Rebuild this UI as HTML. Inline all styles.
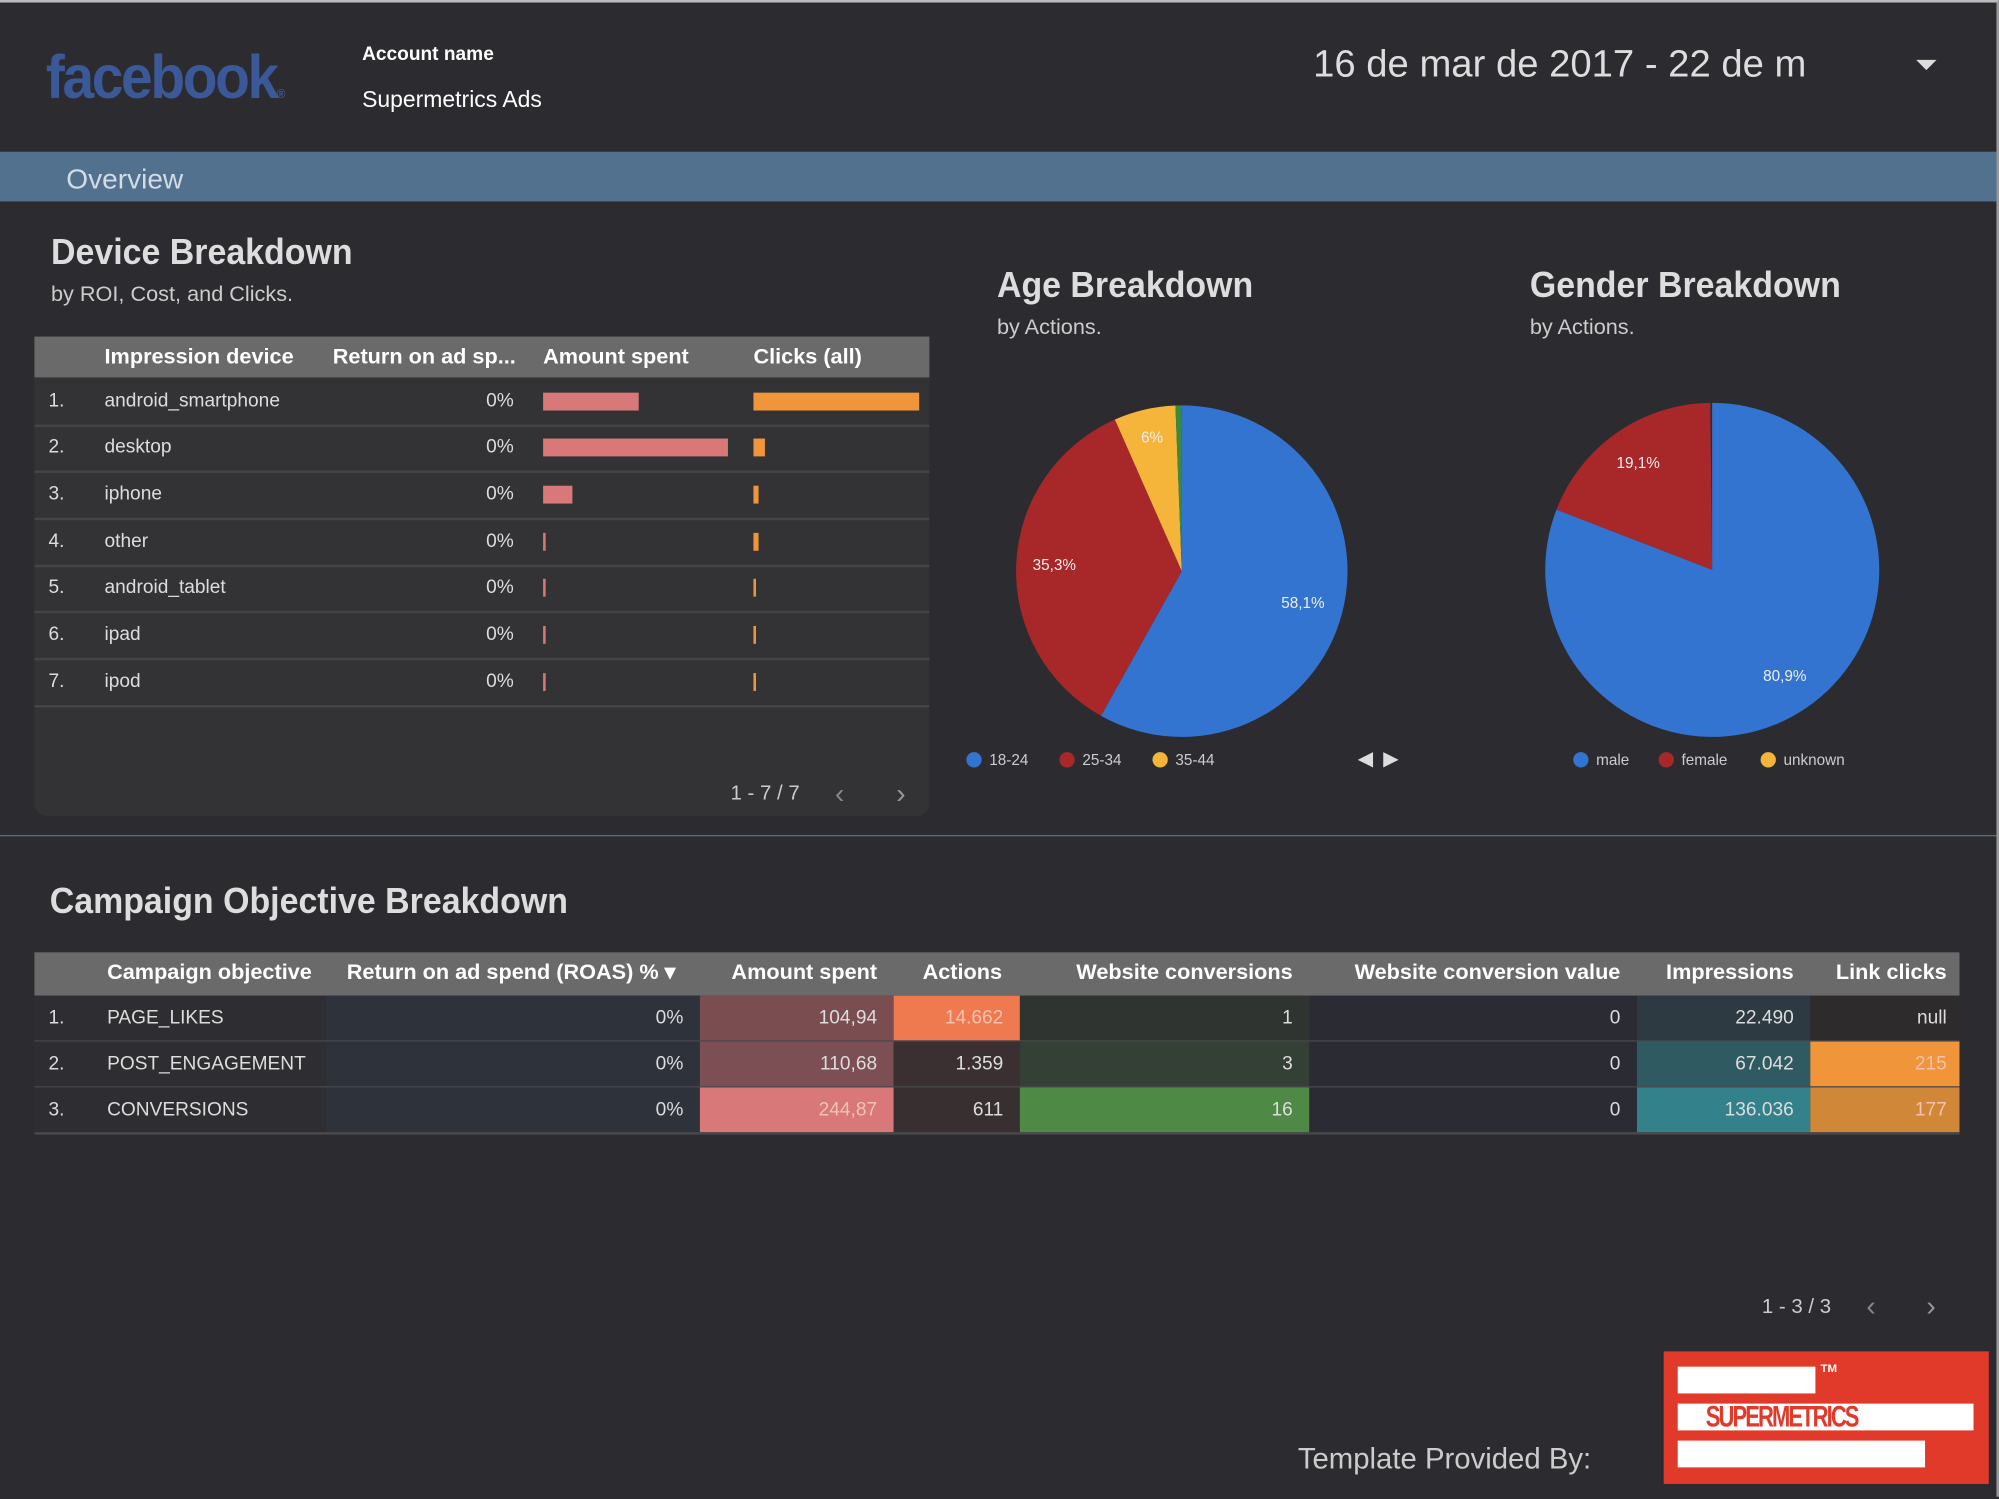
<!DOCTYPE html>
<html><head><meta charset="utf-8"><style>
html,body{margin:0;padding:0;background:#2c2b30;overflow:hidden}
body{width:1999px;height:1497px}
#c{position:absolute;left:0;top:0;width:1568px;height:1174px;transform:scale(1.27487);transform-origin:0 0;background:#2c2b30;font-family:"Liberation Sans",sans-serif;color:#ddd;border-top:2px solid #bbb;border-right:2px solid #999;box-sizing:border-box}
.a{position:absolute;white-space:nowrap}
.b{position:absolute}
.hd{font-weight:bold;font-size:17px;color:#fff}
.r{font-size:15px;color:#ddd}
.cell{position:absolute;height:36px}
.t{font-size:28px;font-weight:bold;color:#ddd;transform:scaleX(0.95);transform-origin:0 0}
</style></head><body><div id="c">
<div class="a" style="left:36px;top:32px;font-size:48px;font-weight:bold;color:#3b5998;letter-spacing:-2px;transform:scaleX(0.93);transform-origin:0 0">facebook<span style="font-size:10px">®</span></div>
<div class="a" style="left:284px;top:32px;font-size:15px;font-weight:bold;color:#fff">Account name</div>
<div class="a" style="left:284px;top:66px;font-size:18px;color:#fff">Supermetrics Ads</div>
<div class="a" style="left:1030px;top:32px;font-size:30px;color:#ddd">16 de mar de 2017 - 22 de m</div>
<div class="b" style="left:1503px;top:45px;border-left:8px solid transparent;border-right:8px solid transparent;border-top:8px solid #ddd"></div>
<div class="b" style="left:0;top:117px;width:1566px;height:39px;background:#51718f"></div>
<div class="a" style="left:52px;top:126px;font-size:22px;color:#d3dbe4">Overview</div>

<div class="a t" style="left:40px;top:180px">Device Breakdown</div>
<div class="a" style="left:40px;top:219px;font-size:17px;color:#ccc">by ROI, Cost, and Clicks.</div>
<div class="b" style="left:27px;top:262px;width:702px;height:376px;background:#333336;border-radius:0 0 10px 10px"></div>
<div class="b" style="left:27px;top:262px;width:702px;height:32px;background:#6a6a6a"></div>
<div class="a hd" style="left:82px;top:268px">Impression device</div>
<div class="a hd" style="left:261px;top:268px">Return on ad sp...</div>
<div class="a hd" style="left:426px;top:268px">Amount spent</div>
<div class="a hd" style="left:591px;top:268px">Clicks (all)</div>
<div id="dev"></div>
<div class="a" style="left:573px;top:612px;font-size:16px;color:#ccc">1 - 7 / 7</div>
<div class="a" style="left:655px;top:608px;font-size:22px;color:#888">&lsaquo;</div>
<div class="a" style="left:703px;top:608px;font-size:22px;color:#999">&rsaquo;</div>
<div class="b" style="left:0;top:653px;width:1566px;height:1px;background:#4f7394"></div>

<div class="a t" style="left:782px;top:206px">Age Breakdown</div>
<div class="a" style="left:782px;top:245px;font-size:17px;color:#ccc">by Actions.</div>
<div class="a t" style="left:1200px;top:206px">Gender Breakdown</div>
<div class="a" style="left:1200px;top:245px;font-size:17px;color:#ccc">by Actions.</div>
<svg class="b" style="left:0;top:0" width="1568" height="1174" font-family="Liberation Sans, sans-serif">
<g transform="translate(927,446)">
<path d="M0,0 L0,-130 A130,130 0 1,1 -63.4,113.5 Z" fill="#3374d0"/>
<path d="M0,0 L-63.4,113.5 A130,130 0 0,1 -52.5,-118.9 Z" fill="#a8282a"/>
<path d="M0,0 L-52.5,-118.9 A130,130 0 0,1 -5,-129.9 Z" fill="#f5b43a"/>
<path d="M0,0 L-5,-129.9 A130,130 0 0,1 0,-130 Z" fill="#3a8a40"/>
<text x="78" y="29" fill="#eee" font-size="12">58,1%</text>
<text x="-117" y="-1" fill="#eee" font-size="12">35,3%</text>
<text x="-32" y="-101" fill="#eee" font-size="12">6%</text>
</g>
<g transform="translate(1343,445)">
<path d="M0,0 L0,-131 A131,131 0 1,1 -122.1,-47.3 Z" fill="#3374d0"/>
<path d="M0,0 L-122.1,-47.3 A131,131 0 0,1 -1.5,-131 Z" fill="#a8282a"/>
<text x="40" y="87" fill="#eee" font-size="12">80,9%</text>
<text x="-75" y="-80" fill="#eee" font-size="12">19,1%</text>
</g>
<g font-size="12" fill="#ccc">
<circle cx="764" cy="594" r="6" fill="#3374d0"/><text x="776" y="598">18-24</text>
<circle cx="837" cy="594" r="6" fill="#a8282a"/><text x="849" y="598">25-34</text>
<circle cx="910" cy="594" r="6" fill="#f5b43a"/><text x="922" y="598">35-44</text>
<path d="M1065,594 l12,-6 v12z M1097,594 l-12,-6 v12z" fill="#ddd"/>
<circle cx="1240" cy="594" r="6" fill="#3374d0"/><text x="1252" y="598">male</text>
<circle cx="1307" cy="594" r="6" fill="#a8282a"/><text x="1319" y="598">female</text>
<circle cx="1387" cy="594" r="6" fill="#f5b43a"/><text x="1399" y="598">unknown</text>
</g>
</svg>

<div class="a t" style="left:39px;top:689px">Campaign Objective Breakdown</div>
<div class="b" style="left:27px;top:745px;width:1510px;height:34px;background:#6a6a6a"></div>
<div class="a hd" style="left:84px;top:751px">Campaign objective</div>
<div class="a hd" style="left:272px;top:751px">Return on ad spend (ROAS) % ▾</div>
<div class="a hd" style="right:878px;top:751px">Amount spent</div>
<div class="a hd" style="right:780px;top:751px">Actions</div>
<div class="a hd" style="right:552px;top:751px">Website conversions</div>
<div class="a hd" style="right:295px;top:751px">Website conversion value</div>
<div class="a hd" style="right:159px;top:751px">Impressions</div>
<div class="a hd" style="right:39px;top:751px">Link clicks</div>
<div id="camp"></div>
<div class="a" style="left:1382px;top:1015px;font-size:16px;color:#ccc">1 - 3 / 3</div>
<div class="a" style="left:1464px;top:1010px;font-size:22px;color:#888">&lsaquo;</div>
<div class="a" style="left:1511px;top:1010px;font-size:22px;color:#999">&rsaquo;</div>
<div class="a" style="left:1018px;top:1129px;font-size:23px;color:#ccc">Template Provided By:</div>
<div class="b" style="left:1305px;top:1058px;width:255px;height:104px;background:#e23a2a"></div>
<div class="b" style="left:1316px;top:1070px;width:108px;height:21px;background:#fff"></div>
<div class="a" style="left:1428px;top:1066px;font-size:9px;font-weight:bold;color:#fff">TM</div>
<div class="b" style="left:1316px;top:1099px;width:232px;height:21px;background:#fff"></div>
<div class="a" style="left:1338px;top:1096px;font-size:23px;font-weight:bold;color:#e23a2a;letter-spacing:-2px;transform:scaleX(0.75);transform-origin:0 0">SUPERMETRICS</div>
<div class="b" style="left:1316px;top:1128px;width:194px;height:21px;background:#fff"></div>
</div>
<script>
var d=[["android_smartphone",75,130],["desktop",145,9],["iphone",23,4],["other",2,4],["android_tablet",2,2],["ipad",2,2],["ipod",2,2]];
var ys=[313,349,386,423,459,496,533],h="";
d.forEach(function(r,i){var y=ys[i];
h+='<div class="a r" style="left:38px;top:'+(y-9)+'px">'+(i+1)+'.</div>';
h+='<div class="a r" style="left:82px;top:'+(y-9)+'px">'+r[0]+'</div>';
h+='<div class="a r" style="right:1163px;top:'+(y-9)+'px">0%</div>';
h+='<div class="b" style="left:426px;top:'+(y-7)+'px;width:'+r[1]+'px;height:14px;background:#d87878"></div>';
h+='<div class="b" style="left:591px;top:'+(y-7)+'px;width:'+r[2]+'px;height:14px;background:#f0953a"></div>';
h+='<div class="b" style="left:27px;top:'+(y+18)+'px;width:702px;height:2px;background:#444447"></div>';});
document.getElementById('dev').innerHTML=h;
var cols=[[27,256],[256,549],[549,701],[701,800],[800,1027],[1027,1284],[1284,1420],[1420,1537]];
var rows=[["PAGE_LIKES","0%","104,94","14.662","1","0","22.490","null"],["POST_ENGAGEMENT","0%","110,68","1.359","3","0","67.042","215"],["CONVERSIONS","0%","244,87","611","16","0","136.036","177"]];
var bg=[["#2e2d31","#2e323b","#7a4d51","#ef7a50","#2f3431","#2b2b33","#2d3a41","#2e2b2d"],["#2e2d31","#2e323b","#7b4f54","#3a3032","#343f35","#2b2b33","#305a62","#f0953a"],["#2e2d31","#2e323b","#d87878","#382f31","#4e8a45","#2b2b33","#33818b","#d08838"]];
var g="";
rows.forEach(function(r,i){var t=779+i*36;
cols.forEach(function(c,j){g+='<div class="cell" style="left:'+c[0]+'px;top:'+t+'px;width:'+(c[1]-c[0])+'px;background:'+bg[i][j]+'"></div>';
if(j==0){g+='<div class="a r" style="left:38px;top:'+(t+9)+'px">'+(i+1)+'.</div><div class="a r" style="left:84px;top:'+(t+9)+'px">'+r[0]+'</div>';}
else{var col=(bg[i][j]=="#ef7a50"||bg[i][j]=="#d87878"||bg[i][j]=="#f0953a"||bg[i][j]=="#d08838")?"#f3c2b0":"#ddd";
g+='<div class="a r" style="right:'+(1568-c[1]+(j==7?8:11))+'px;top:'+(t+9)+'px;color:'+col+'">'+r[j]+'</div>';}});
g+='<div class="b" style="left:27px;top:'+(t+35)+'px;width:1510px;height:2px;background:#48484c"></div>';});
document.getElementById('camp').innerHTML=g;
</script>
</body></html>
